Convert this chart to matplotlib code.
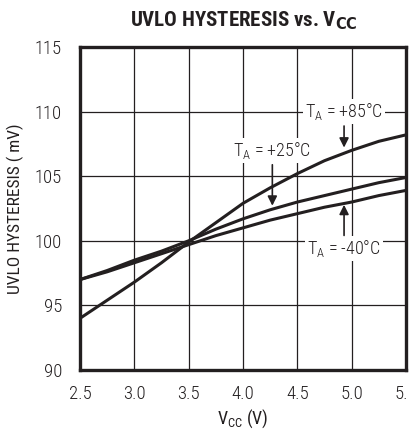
import matplotlib
matplotlib.use('Agg')
import matplotlib.pyplot as plt

# Data
vcc = [2.5, 2.75, 3.0, 3.25, 3.5, 3.75, 4.0, 4.25, 4.5, 4.75, 5.0, 5.25, 5.5]
hyst_85 = [94.0, 95.4, 96.8, 98.3, 99.9, 101.4, 102.9, 104.1, 105.2, 106.2, 107.0, 107.7, 108.2]
hyst_25 = [97.0, 97.7, 98.5, 99.2, 100.0, 100.9, 101.7, 102.4, 103.0, 103.5, 104.0, 104.5, 104.9]
hyst_m40 = [97.0, 97.6, 98.3, 99.0, 99.7, 100.4, 101.0, 101.6, 102.1, 102.6, 103.0, 103.5, 103.9]

x_ticks = [2.5, 3.0, 3.5, 4.0, 4.5, 5.0, 5.5]
y_ticks = [90, 95, 100, 105, 110, 115]

plt.rcParams['font.family'] = ['Roboto Condensed', 'DejaVu Sans']
plt.rcParams['font.weight'] = 'light'
plt.rcParams['mathtext.fontset'] = 'custom'

ink = '#231f20'

fig = plt.figure(figsize=(4.09, 4.32), dpi=100)
ax = fig.add_axes([80 / 409, 62 / 432, 326 / 409, 323 / 432])

for y in [hyst_85, hyst_25, hyst_m40]:
    ax.plot(vcc, y, color=ink, lw=2.2, solid_capstyle='butt', zorder=3)

ax.set_xlim(2.5, 5.5)
ax.set_ylim(90, 115)
ax.set_xticks(x_ticks)
ax.set_xticklabels([f'{v:.1f}' for v in x_ticks])
ax.set_yticks(y_ticks)
ax.grid(True, color=ink, lw=0.9)
ax.tick_params(length=0, labelsize=13.5, colors=ink)
ax.tick_params(axis='y', pad=13)
ax.tick_params(axis='x', pad=11)
for s in ax.spines.values():
    s.set_linewidth(2.4)
    s.set_color(ink)

ax.set_xlabel(r'V$_\mathregular{CC}$ (V)', fontsize=13, color=ink, labelpad=3)
ax.set_ylabel('UVLO HYSTERESIS ( mV)', fontsize=12.5, color=ink, labelpad=8)
fig.text(0.597, 0.953, r'UVLO HYSTERESIS vs. V$_\mathbf{CC}$', ha='center', va='center',
         fontsize=15, fontweight='bold', color=ink)

box = dict(facecolor='white', edgecolor='none', pad=1.5)
ax.text(4.93, 110.0, r'T$_\mathregular{A}$ = +85°C', ha='center', va='center',
        fontsize=13, color=ink, bbox=box, zorder=4)
ax.annotate('', xy=(4.93, 107.0), xytext=(4.93, 109.1),
            arrowprops=dict(arrowstyle='-|>', color=ink, lw=1.2, mutation_scale=14), zorder=4)

ax.text(4.27, 107.0, r'T$_\mathregular{A}$ = +25°C', ha='center', va='center',
        fontsize=13, color=ink, bbox=box, zorder=4)
ax.annotate('', xy=(4.27, 102.5), xytext=(4.27, 106.1),
            arrowprops=dict(arrowstyle='-|>', color=ink, lw=1.2, mutation_scale=14), zorder=4)

ax.text(4.93, 99.4, r'T$_\mathregular{A}$ = -40°C', ha='center', va='center',
        fontsize=13, color=ink, bbox=box, zorder=4)
ax.annotate('', xy=(4.93, 103.0), xytext=(4.93, 100.2),
            arrowprops=dict(arrowstyle='-|>', color=ink, lw=1.2, mutation_scale=14), zorder=4)

fig.savefig('out.png', dpi=100)
